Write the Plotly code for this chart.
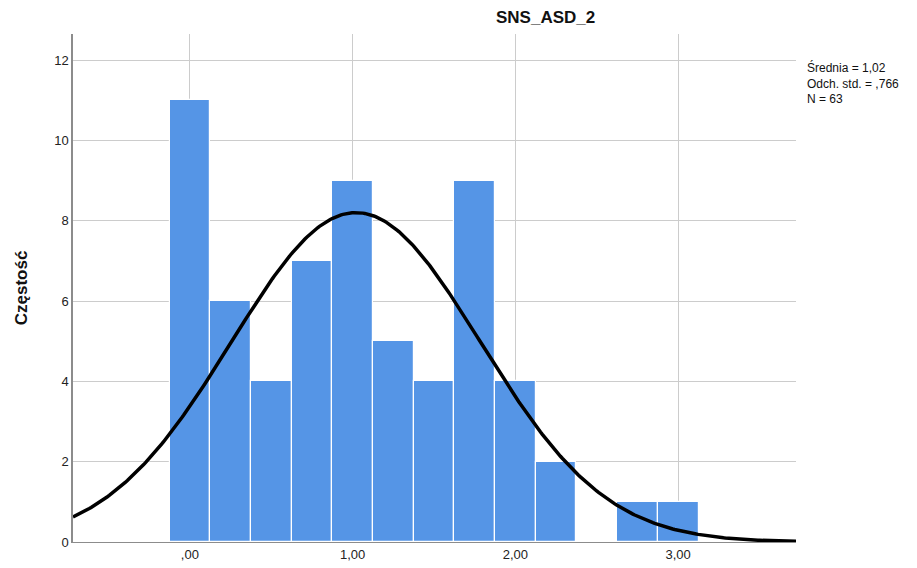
import numpy as np
import plotly.graph_objects as go

# Data
bin_centers = [0.0, 0.25, 0.5, 0.75, 1.0, 1.25, 1.5, 1.75, 2.0, 2.25, 2.5, 2.75, 3.0]
counts = [11, 6, 4, 7, 9, 5, 4, 9, 4, 2, 0, 1, 1]
bin_width = 0.25
mean_val = 1.02
sd_val = 0.766
n_val = 63
x_tick_vals = [0, 1, 2, 3]
x_tick_text = [",00", "1,00", "2,00", "3,00"]
y_tick_vals = [0, 2, 4, 6, 8, 10, 12]
x_range = [-0.718, 3.724]
y_range = [0, 12.65]

# Fitted normal curve (from reported statistics)
xc = np.linspace(x_range[0], x_range[1], 400)
yc = n_val * bin_width / (sd_val * np.sqrt(2 * np.pi)) * np.exp(-0.5 * ((xc - mean_val) / sd_val) ** 2)

fig = go.Figure()
fig.add_trace(go.Bar(
    x=bin_centers, y=counts, width=bin_width,
    marker=dict(color="#5595E6", line=dict(color="white", width=1.2)),
    hoverinfo="x+y", showlegend=False,
))
fig.add_trace(go.Scatter(
    x=xc, y=yc, mode="lines",
    line=dict(color="black", width=3.5), showlegend=False, hoverinfo="skip",
    cliponaxis=True,
))

fig.update_layout(
    width=917, height=568,
    margin=dict(l=73, r=121, t=34, b=26),
    paper_bgcolor="white", plot_bgcolor="white",
    font=dict(family="Liberation Sans, Arial, sans-serif", color="#222222"),
    bargap=0,
    xaxis=dict(
        range=x_range, tickvals=x_tick_vals, ticktext=x_tick_text,
        showgrid=True, gridcolor="#cccccc", gridwidth=1,
        zeroline=False, showline=True, linecolor="#8c8c8c", linewidth=1,
        ticks="", tickfont=dict(size=13, color="#222222"), fixedrange=True,
        automargin=False,
    ),
    yaxis=dict(
        range=y_range, tickvals=y_tick_vals,
        showgrid=True, gridcolor="#cccccc", gridwidth=1,
        zeroline=False, showline=True, linecolor="#8c8c8c", linewidth=1.5,
        ticks="", tickfont=dict(size=13, color="#222222"),
        title=dict(text="<b>Częstość</b>", font=dict(size=17, color="#111111"), standoff=22),
        fixedrange=True, automargin=False,
    ),
    annotations=[
        dict(text="<b>SNS_ASD_2</b>", x=545, y=16, xref="paper", yref="paper",
             showarrow=False, font=dict(size=17, color="#111111")),
        dict(text="Średnia = 1,02<br>Odch. std. = ,766<br>N = 63",
             xref="paper", yref="paper", x=1.012, y=0.985, xanchor="left", yanchor="top",
             align="left", showarrow=False, font=dict(size=12, color="#111111")),
    ],
)
# Title position in paper coords
plot_w = 917 - 73 - 121
plot_h = 568 - 34 - 26
fig.layout.annotations[0].x = (545 - 73) / plot_w
fig.layout.annotations[0].y = (568 - 26 - 17) / plot_h
fig.layout.annotations[0].yanchor = "middle"
fig.layout.annotations[1].y = (568 - 26 - 58) / plot_h

fig.write_html("out.html")
